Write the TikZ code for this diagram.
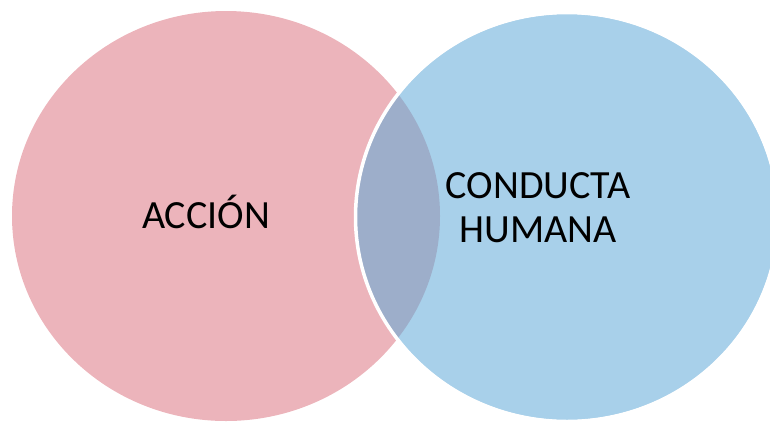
\documentclass[tikz,border=0pt]{standalone}
\usepackage{fontspec}
\setmainfont{Carlito}
\definecolor{pinkfill}{HTML}{ECB4BB}
\definecolor{bluefill}{HTML}{A8D0EA}
\definecolor{mixfill}{HTML}{9DAECA}
\begin{document}
\begin{tikzpicture}[x=1pt,y=-1pt,
  label/.style={font=\fontsize{40}{44}\selectfont, inner sep=0pt, text=black, align=center}]
\useasboundingbox (0,0) rectangle (770,421);
\clip (0,0) rectangle (770,421);
\path[fill=pinkfill] (226,216) ellipse [x radius=214pt, y radius=205pt];
\path[fill=bluefill] (567,217) ellipse [x radius=210pt, y radius=203pt];
\begin{scope}
  \clip (226,216) ellipse [x radius=214pt, y radius=205pt];
  \path[fill=mixfill] (567,217) ellipse [x radius=210pt, y radius=203pt];
\end{scope}
\draw[white, line width=3.5pt] (567,217) ellipse [x radius=211.5pt, y radius=204.5pt];
\node[label, anchor=base] (accion) at (206,228) {ACCIÓN};
\node[label, anchor=base] (conducta) at (538,242) {CONDUCTA\\HUMANA};
\end{tikzpicture}
\end{document}
